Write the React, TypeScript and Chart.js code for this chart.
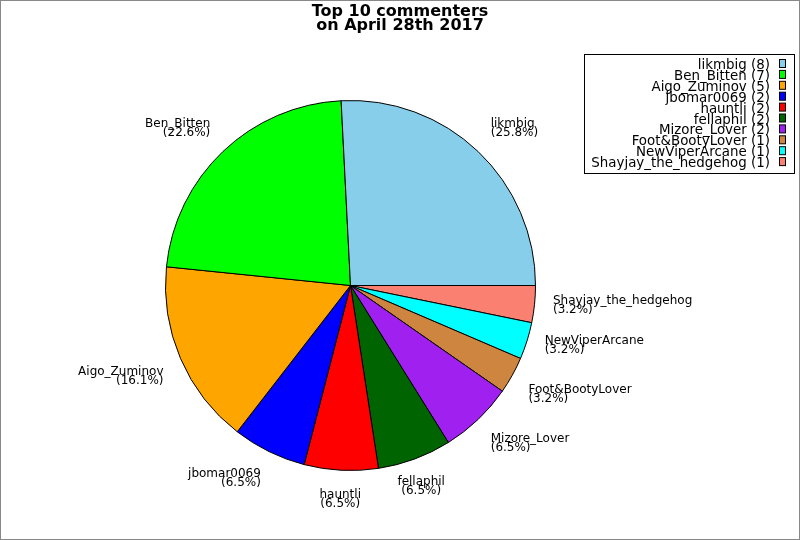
import React, { useEffect, useRef } from 'react';
import { Chart, registerables } from 'chart.js';

Chart.register(...registerables);

// commenters, biggest first (legend order)
const commenters = [
    'likmbig',
    'Ben_Bitten',
    'Aigo_Zuminov',
    'jbomar0069',
    'hauntli',
    'fellaphil',
    'Mizore_Lover',
    'Foot&BootyLover',
    'NewViperArcane',
    'Shayjay_the_hedgehog',
];
const commentCounts = [8, 7, 5, 2, 2, 2, 2, 1, 1, 1];
const sliceColors = [
    '#87CEEB', '#00FF00', '#FFA500', '#0000FF', '#FF0000',
    '#006400', '#A020F0', '#CD853F', '#00FFFF', '#FA8072',
];
const titleLines = ['Top 10 commenters', 'on April 28th 2017'];

const FONT = '"DejaVu Sans", sans-serif';
const total = commentCounts.reduce((a, b) => a + b, 0);

// slices run counter-clockwise from 3 o'clock, chart.js goes clockwise, so feed it reversed
const pieLabels = [...commenters].reverse();
const pieValues = [...commentCounts].reverse();
const pieColors = [...sliceColors].reverse();

const decorations = {
    id: 'decorations',
    afterDraw(chart: Chart) {
        const ctx = chart.ctx;
        const meta = chart.getDatasetMeta(0);
        ctx.save();

        // outer frame
        ctx.strokeStyle = '#888888';
        ctx.lineWidth = 1;
        ctx.strokeRect(0.5, 0.5, chart.width - 1, chart.height - 1);

        // title
        ctx.fillStyle = '#000';
        ctx.font = `bold 16px ${FONT}`;
        ctx.textAlign = 'center';
        ctx.textBaseline = 'alphabetic';
        ctx.fillText(titleLines[0], 400, 16);
        ctx.fillText(titleLines[1], 400, 30);

        // slice labels
        ctx.font = `12px ${FONT}`;
        meta.data.forEach((el: any, i: number) => {
            const { x, y, startAngle, endAngle, outerRadius } = el.getProps(
                ['x', 'y', 'startAngle', 'endAngle', 'outerRadius'], true);
            const mid = (startAngle + endAngle) / 2;
            const c = Math.cos(mid);
            const s = Math.sin(mid);
            const ax = x + c * outerRadius * 1.1;
            const ay = y + s * outerRadius * 1.1;
            ctx.textAlign = Math.abs(c) < 0.4 ? 'center' : c > 0 ? 'left' : 'right';
            let b1;
            if (Math.abs(s) < 0.35) b1 = ay - 2;
            else if (s < 0) b1 = ay - 11;
            else b1 = ay + 9;
            const pct = ((pieValues[i] / total) * 100).toFixed(1);
            ctx.fillText(pieLabels[i], ax, b1);
            ctx.fillText(`(${pct}%)`, ax, b1 + 9);
        });

        // legend
        const lx = 584, ly = 54, lw = 210, lh = 119;
        ctx.strokeStyle = '#000';
        ctx.strokeRect(lx + 0.5, ly + 0.5, lw, lh);
        ctx.font = `13.4px ${FONT}`;
        ctx.textAlign = 'right';
        commenters.forEach((name, i) => {
            const base = 69 + i * 10.9;
            ctx.fillStyle = '#000';
            ctx.fillText(`${name} (${commentCounts[i]})`, 770, base);
            ctx.fillStyle = sliceColors[i];
            ctx.fillRect(779.5, base - 9.5, 6, 8);
            ctx.strokeRect(779.5, base - 9.5, 6, 8);
        });

        ctx.restore();
    },
};

const App: React.FC = () => {
    const canvas = useRef<HTMLCanvasElement | null>(null);
    const chartRef = useRef<Chart | null>(null);

    useEffect(() => {
        document.body.style.margin = '0';
        const el = canvas.current;
        if (!el) return;
        if (chartRef.current) chartRef.current.destroy();

        chartRef.current = new Chart(el, {
            type: 'pie',
            data: {
                labels: pieLabels,
                datasets: [
                    {
                        data: pieValues,
                        backgroundColor: pieColors,
                        borderColor: '#000',
                        borderWidth: 1,
                        hoverOffset: 0,
                        offset: 0,
                    },
                ],
            },
            options: {
                responsive: false,
                animation: false,
                rotation: 90,
                layout: { padding: { left: 165, right: 264, top: 100, bottom: 69 } },
                plugins: {
                    legend: { display: false },
                    tooltip: { enabled: false },
                    title: { display: false },
                },
            },
            plugins: [decorations],
        });

        return () => {
            chartRef.current?.destroy();
            chartRef.current = null;
        };
    }, []);

    return (
        <div style={{ width: 800, height: 540, background: '#fff' }}>
            <canvas ref={canvas} width={800} height={540} style={{ display: 'block' }}></canvas>
        </div>
    );
};

export default App;
